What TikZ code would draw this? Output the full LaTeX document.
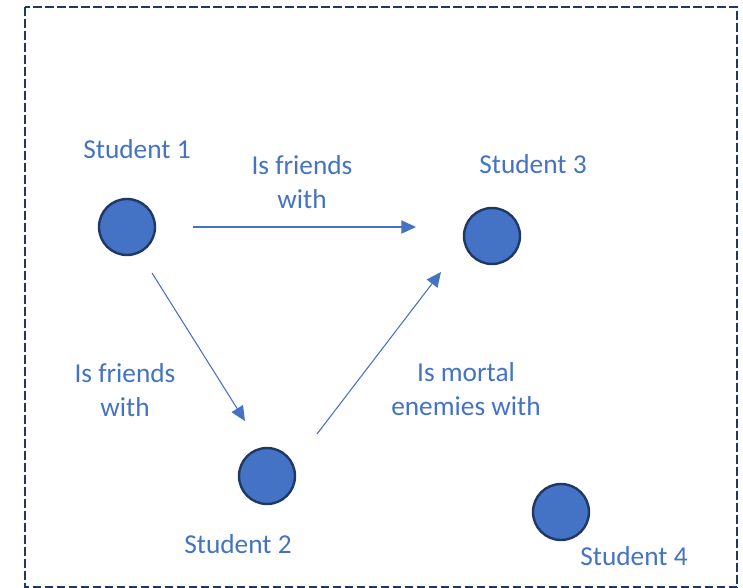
\documentclass[tikz,border=0pt]{standalone}
\usepackage{fontspec}
\setmainfont{Carlito}
\usetikzlibrary{arrows.meta}
\definecolor{officeblue}{HTML}{4472C4}
\definecolor{navy}{HTML}{1F3864}
\tikzset{
  student/.style={circle, fill=officeblue, draw=navy, line width=1.8pt, minimum size=42pt, inner sep=0pt},
  label text/.style={text=officeblue, font=\fontsize{20.5}{26}\selectfont, align=center},
  relation/.style={draw=officeblue, line width=0.8pt, -{Triangle[length=11pt, width=10pt]}},
}
\begin{document}
\begin{tikzpicture}[x=0.75pt, y=-0.75pt]
\useasboundingbox (0,0) rectangle (743,588);
% frame
\draw[navy, line width=1.8pt, dash pattern=on 6.5pt off 2.5pt] (25,7) rectangle (737,587.5);

% students
\node[student] (s1) at (127,227) {};
\node[student] (s2) at (267,476) {};
\node[student] (s3) at (492,236) {};
\node[student] (s4) at (561,512) {};

\node[label text] (t1) at (137,149) {Student 1};
\node[label text] (t2) at (238,544) {Student 2};
\node[label text] (t3) at (533,164) {Student 3};
\node[label text] (t4) at (634,556) {Student 4};

% relations
\coordinate (a1s) at (193,227);
\coordinate (a1e) at (416,227);
\coordinate (a2s) at (152,273);
\coordinate (a2e) at (245,421);
\coordinate (a3s) at (317,434);
\coordinate (a3e) at (441,272);
\draw[relation] (a1s) -- (a1e);
\draw[relation] (a2s) -- (a2e);
\draw[relation] (a3s) -- (a3e);

\node[label text] (r1) at (302,182) {Is friends\\with};
\node[label text] (r2) at (125,390) {Is friends\\with};
\node[label text] (r3) at (466,389) {Is mortal\\enemies with};
\end{tikzpicture}
\end{document}
